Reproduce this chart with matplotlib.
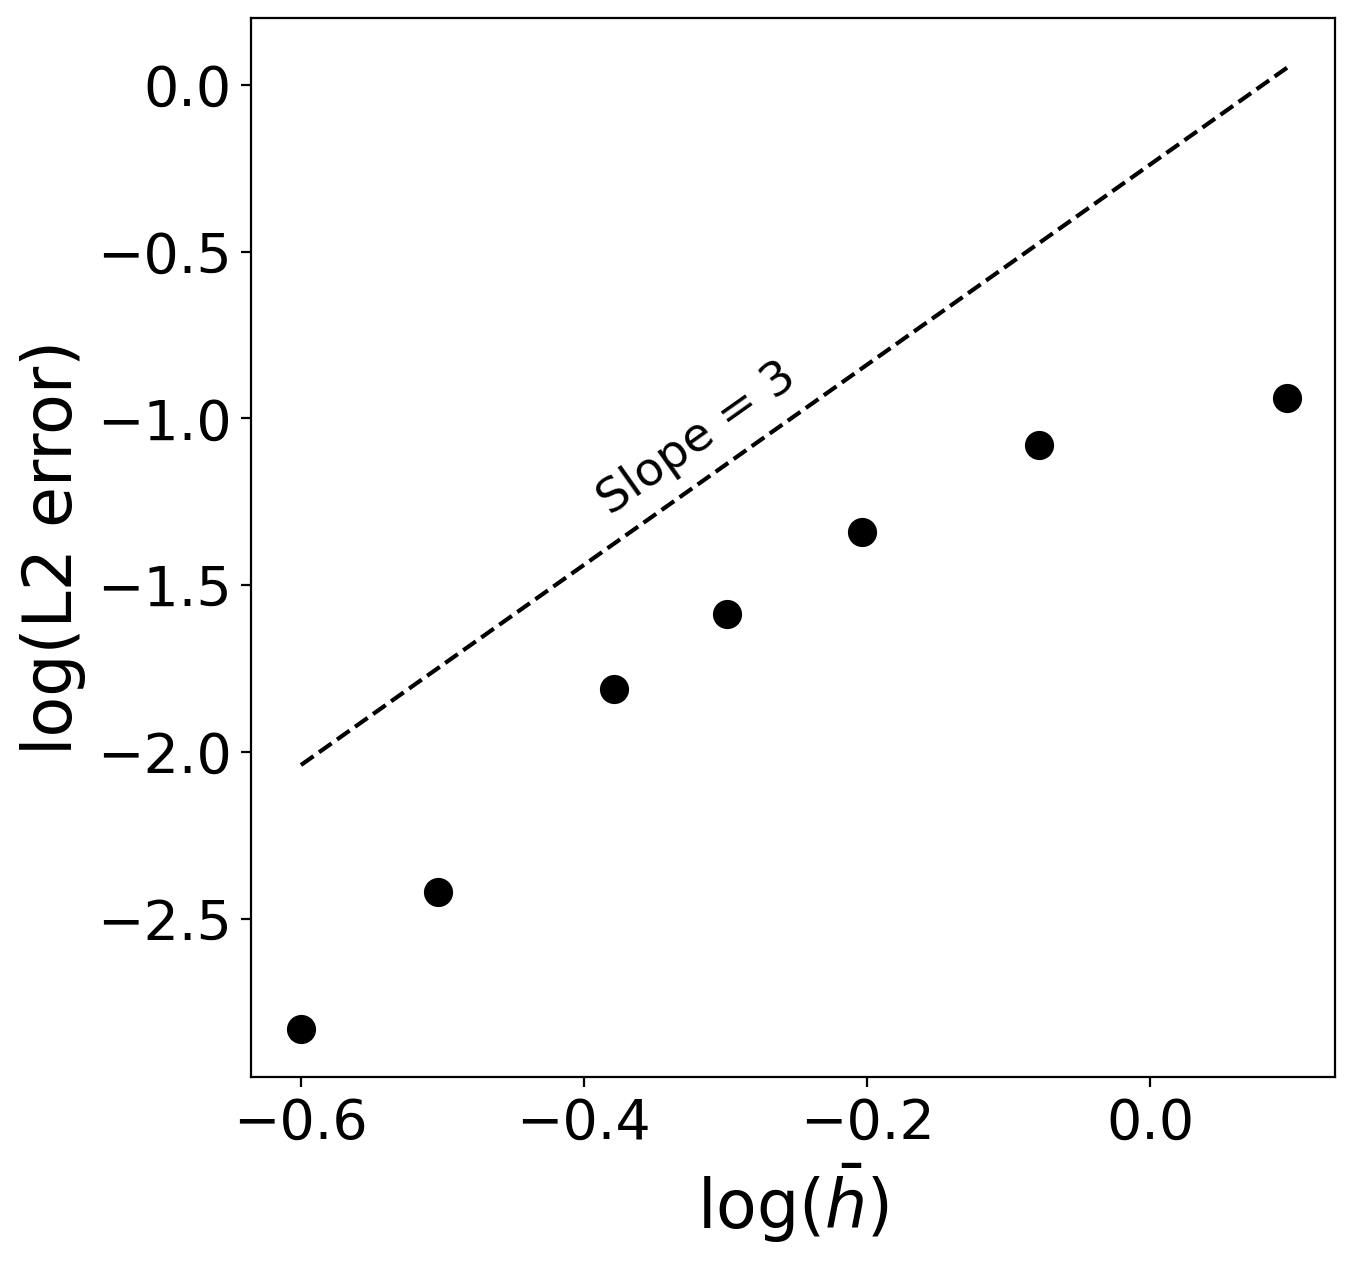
import numpy as np
import matplotlib
matplotlib.use("Agg")
import matplotlib.pyplot as plt

# log of mesh size and error
log_h = [-0.600, -0.503, -0.379, -0.299, -0.2035, -0.0784, 0.0968]
log_err = [-2.830, -2.419, -1.811, -1.586, -1.340, -1.079, -0.938]

# reference slope line end points
slope_x = [-0.600, 0.0968]
slope_y = [-2.039, 0.051]
slope_label = "Slope = 3"

fig = plt.figure(figsize=(6.78, 6.325), dpi=200)
ax = fig.add_axes([251/1356, 1 - 1077/1265, (1335-251)/1356, (1077-18)/1265])

ax.plot(log_h, log_err, "o", color="k", markersize=9.5)
ax.plot(slope_x, slope_y, "--", color="k", linewidth=1.5)
ax.text(-0.320, -1.062, slope_label, rotation=35.3, fontsize=17,
        ha="center", va="center", rotation_mode="anchor")

ax.set_xlim(-0.6353, 0.1307)
ax.set_ylim(-2.974, 0.200)
ax.set_xticks([-0.6, -0.4, -0.2, 0.0])
ax.set_yticks([0.0, -0.5, -1.0, -1.5, -2.0, -2.5])
ax.tick_params(labelsize=20)
ax.set_xlabel(r"$\log(\bar{h})$", fontsize=24)
ax.set_ylabel("log(L2 error)", fontsize=24)

fig.savefig("out.png", dpi=200)
